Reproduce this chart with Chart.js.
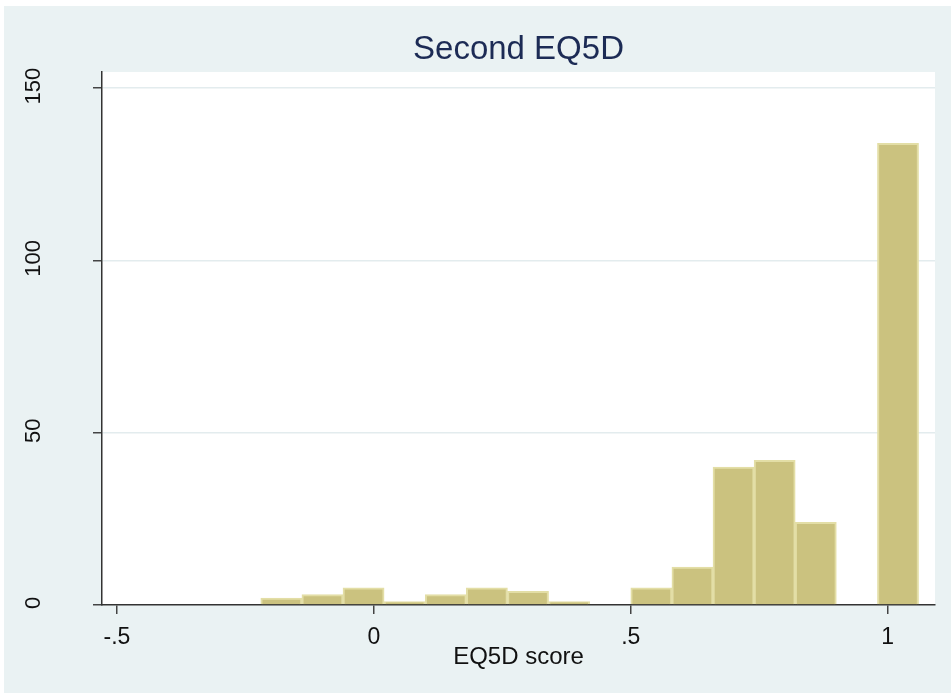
<!DOCTYPE html>
<html>
<head>
<meta charset="utf-8">
<title>Second EQ5D</title>
<script src="https://cdn.jsdelivr.net/npm/chart.js@4/dist/chart.umd.min.js"></script>
<style>
  body { margin: 0; background: #fff; }
  #wrap { width: 951px; height: 695px; }
</style>
</head>
<body>
<div id="wrap"><canvas id="histo" width="951" height="695"></canvas></div>
<script>
// histogram bins (centre of each bin, width 0.08) and their frequencies
const binCenters = [-0.18, -0.10, -0.02, 0.06, 0.14, 0.22, 0.30, 0.38, 0.46, 0.54, 0.62, 0.70, 0.78, 0.86, 0.94, 1.02];
const counts     = [2, 3, 5, 1, 3, 5, 4, 1, 0, 5, 11, 40, 42, 24, 0, 134];

// axis ticks
const xTicks      = [-0.5, 0, 0.5, 1];
const xTickLabels = ['-.5', '0', '.5', '1'];
const yTicks      = [0, 50, 100, 150];
const yTickLabels = ['0', '50', '100', '150'];

const chartTitle = 'Second EQ5D';
const FONT = '"Liberation Sans", Arial, Helvetica, sans-serif';

// graph region + plot region backgrounds, title over the plot, rotated y labels
const stataBg = {
  id: 'stataBg',
  beforeDraw(chart) {
    const { ctx, chartArea: a } = chart;
    ctx.save();
    ctx.fillStyle = '#ffffff';
    ctx.fillRect(0, 0, chart.width, chart.height);
    ctx.fillStyle = '#EAF2F3';
    ctx.fillRect(4, 6, chart.width - 4, 687);
    ctx.fillStyle = '#ffffff';
    ctx.fillRect(a.left, a.top, a.right - a.left, a.bottom - a.top);
    ctx.restore();
  },
  afterDraw(chart) {
    const { ctx, chartArea: a } = chart;
    const y = chart.scales.y;
    ctx.save();
    ctx.fillStyle = '#1C2B55';
    ctx.font = '33px ' + FONT;
    ctx.textAlign = 'center';
    ctx.textBaseline = 'middle';
    ctx.fillText(chartTitle, (a.left + a.right) / 2, 50);

    ctx.fillStyle = '#111';
    ctx.font = '22px ' + FONT;
    yTicks.forEach((v, i) => {
      ctx.save();
      ctx.translate(34, y.getPixelForValue(v) - 2);
      ctx.rotate(-Math.PI / 2);
      ctx.fillText(yTickLabels[i], 0, 0);
      ctx.restore();
    });
    ctx.restore();
  }
};

new Chart(document.getElementById('histo'), {
  type: 'bar',
  data: {
    datasets: [{
      label: 'Frequency',
      data: binCenters.map((x, i) => ({ x: x, y: counts[i] })),
      backgroundColor: '#CBC27F',
      borderColor: '#E3DEA6',
      borderWidth: 2,
      barPercentage: 1,
      categoryPercentage: 1
    }]
  },
  options: {
    responsive: false,
    animation: false,
    devicePixelRatio: 1,
    layout: { padding: { left: 0, top: 72, right: 16, bottom: 0 } },
    plugins: {
      legend: { display: false },
      tooltip: { enabled: false },
      title: { display: false }
    },
    scales: {
      x: {
        type: 'linear',
        offset: false,
        min: -0.529,
        max: 1.092,
        afterFit: s => { s.height = 90; },
        afterBuildTicks: s => { s.ticks = xTicks.map(v => ({ value: v })); },
        ticks: {
          color: '#111',
          font: { family: FONT, size: 23 },
          padding: 10,
          maxRotation: 0,
          callback: v => xTickLabels[xTicks.indexOf(v)]
        },
        grid: { offset: false, drawOnChartArea: false, drawTicks: true, tickLength: 9, tickColor: '#444', lineWidth: 1.5 },
        border: { display: true, color: '#333', width: 1.5 },
        title: {
          display: true,
          text: 'EQ5D score',
          color: '#111',
          font: { family: FONT, size: 24 },
          padding: { top: 0, bottom: 23 }
        }
      },
      y: {
        min: 0,
        max: 154.7,
        afterFit: s => { s.width = 102; },
        afterBuildTicks: s => { s.ticks = yTicks.map(v => ({ value: v })); },
        ticks: { display: false },
        grid: {
          drawTicks: true,
          tickLength: 9,
          tickColor: '#444',
          lineWidth: 1.5,
          color: ctx => (ctx.tick && ctx.tick.value === 0) ? 'rgba(0,0,0,0)' : '#E3ECEE'
        },
        border: { display: true, color: '#333', width: 1.5 }
      }
    }
  },
  plugins: [stataBg]
});
</script>
</body>
</html>
